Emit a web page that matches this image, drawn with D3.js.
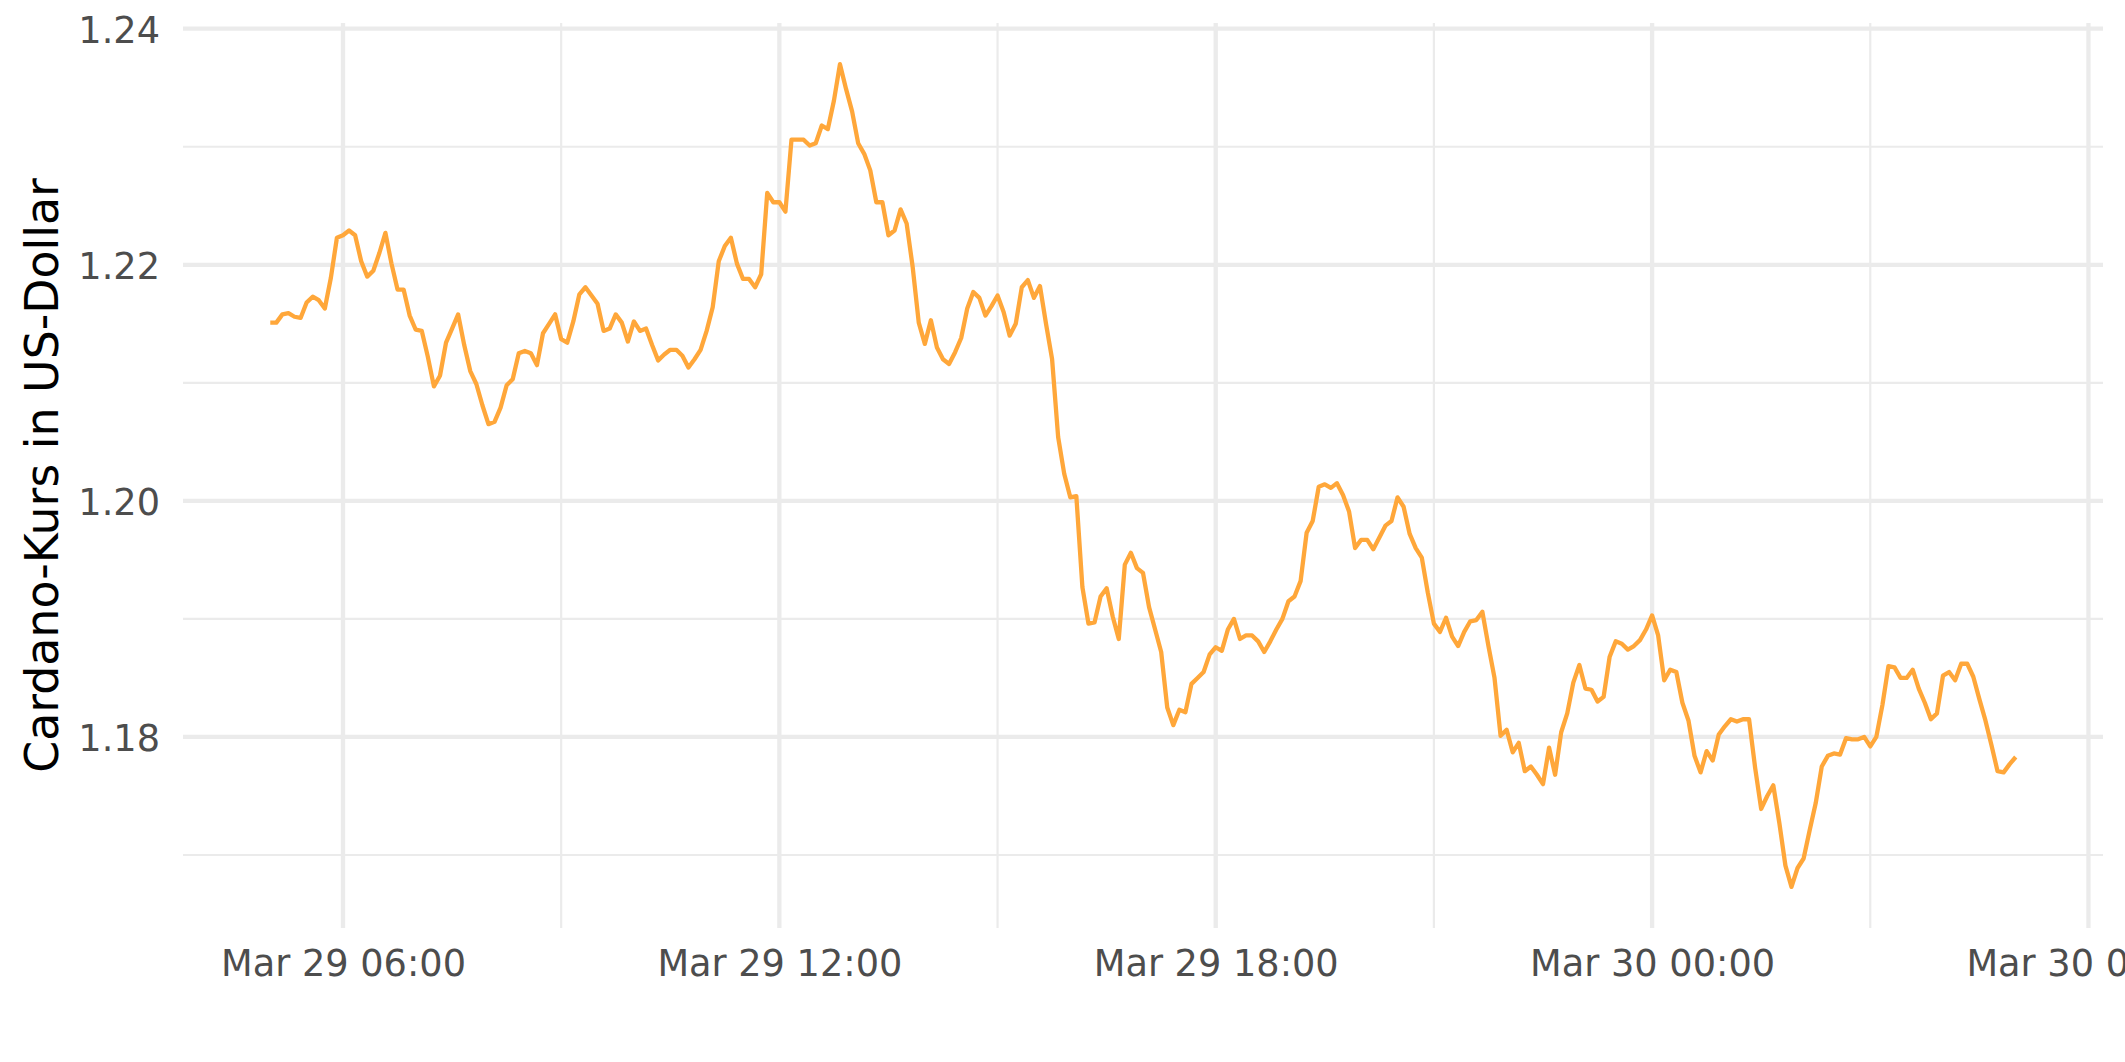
<!DOCTYPE html>
<html>
<head>
<meta charset="utf-8">
<script src="https://cdn.jsdelivr.net/npm/d3@7"></script>
<style>
  html, body { margin: 0; padding: 0; background: #ffffff; }
  svg { display: block; font-family: "DejaVu Sans", sans-serif; }
</style>
</head>
<body>
<svg id="chart" width="2125" height="1062"></svg>
<script>
// ---------------- data ----------------
const startTime = "2021-03-29T05:00:00Z";   // first observation
const stepMinutes = 5;                       // sampling interval
const prices = [
  1.2151, 1.2151, 1.2158, 1.2159, 1.2156, 1.2155, 1.2168, 1.2173, 1.2170, 1.2163,
  1.2189, 1.2223, 1.2225, 1.2229, 1.2225, 1.2203, 1.2190, 1.2195, 1.2210, 1.2227,
  1.2201, 1.2179, 1.2179, 1.2157, 1.2145, 1.2144, 1.2122, 1.2097, 1.2106, 1.2134,
  1.2146, 1.2158, 1.2132, 1.2110, 1.2099, 1.2081, 1.2065, 1.2067, 1.2079, 1.2098,
  1.2103, 1.2125, 1.2127, 1.2125, 1.2115, 1.2142, 1.2150, 1.2158, 1.2137, 1.2134,
  1.2152, 1.2175, 1.2181, 1.2174, 1.2167, 1.2144, 1.2146, 1.2158, 1.2151, 1.2135,
  1.2152, 1.2144, 1.2146, 1.2132, 1.2119, 1.2124, 1.2128, 1.2128, 1.2123, 1.2113,
  1.2120, 1.2128, 1.2144, 1.2164, 1.2203, 1.2216, 1.2223, 1.2201, 1.2188, 1.2188,
  1.2181, 1.2192, 1.2261, 1.2253, 1.2253, 1.2245, 1.2306, 1.2306, 1.2306, 1.2301,
  1.2303, 1.2318, 1.2315, 1.2339, 1.2370, 1.2349, 1.2330, 1.2303, 1.2294, 1.2280,
  1.2253, 1.2253, 1.2225, 1.2229, 1.2247, 1.2235, 1.2198, 1.2151, 1.2133, 1.2153,
  1.2130, 1.2120, 1.2116, 1.2126, 1.2138, 1.2163, 1.2177, 1.2172, 1.2157, 1.2165,
  1.2174, 1.2160, 1.2140, 1.2150, 1.2181, 1.2187, 1.2172, 1.2182, 1.2150, 1.2120,
  1.2054, 1.2023, 1.2003, 1.2004, 1.1927, 1.1896, 1.1897, 1.1919, 1.1926, 1.1902,
  1.1883, 1.1946, 1.1956, 1.1943, 1.1939, 1.1910, 1.1891, 1.1872, 1.1825, 1.1810,
  1.1823, 1.1821, 1.1845, 1.1850, 1.1855, 1.1870, 1.1876, 1.1873, 1.1891, 1.1900,
  1.1883, 1.1886, 1.1886, 1.1881, 1.1872, 1.1881, 1.1891, 1.1900, 1.1915, 1.1919,
  1.1932, 1.1973, 1.1983, 1.2012, 1.2014, 1.2011, 1.2015, 1.2005, 1.1991, 1.1960,
  1.1967, 1.1967, 1.1959, 1.1969, 1.1979, 1.1983, 1.2003, 1.1995, 1.1972, 1.1960,
  1.1952, 1.1922, 1.1896, 1.1889, 1.1901, 1.1885, 1.1877, 1.1889, 1.1898, 1.1899,
  1.1906, 1.1877, 1.1850, 1.1801, 1.1806, 1.1787, 1.1795, 1.1771, 1.1775, 1.1768,
  1.1760, 1.1791, 1.1768, 1.1804, 1.1820, 1.1846, 1.1861, 1.1841, 1.1840, 1.1830,
  1.1834, 1.1868, 1.1881, 1.1879, 1.1874, 1.1877, 1.1882, 1.1891, 1.1903, 1.1886,
  1.1848, 1.1857, 1.1855, 1.1829, 1.1814, 1.1784, 1.1770, 1.1788, 1.1780, 1.1802,
  1.1809, 1.1815, 1.1813, 1.1815, 1.1815, 1.1774, 1.1739, 1.1750, 1.1759, 1.1727,
  1.1691, 1.1673, 1.1689, 1.1697, 1.1721, 1.1744, 1.1775, 1.1784, 1.1786, 1.1785,
  1.1799, 1.1798, 1.1798, 1.1800, 1.1792, 1.1800, 1.1827, 1.1860, 1.1859, 1.1850,
  1.1850, 1.1857, 1.1841, 1.1829, 1.1815, 1.1820, 1.1852, 1.1855, 1.1848, 1.1862,
  1.1862, 1.1851, 1.1832, 1.1814, 1.1793, 1.1771, 1.1770, 1.1777, 1.1783
];
const yMajorTicks = [1.18, 1.20, 1.22, 1.24];
const yMinorTicks = [1.17, 1.19, 1.21, 1.23];
const xTickFormat = "%b %d %H:%M";
const yAxisTitle = "Cardano-Kurs in US-Dollar";

// ---------------- layout / style ----------------
const W = 2125, H = 1062;
const panel = { left: 183, right: 2103, top: 23, bottom: 928 };
const lineColor = "#FFA73A";
const gridColor = "#EBEBEB";
const tickTextColor = "#4D4D4D";

const t0 = new Date(startTime);
const data = prices.map((p, i) => ({ date: d3.utcMinute.offset(t0, i * stepMinutes), price: p }));

// ggplot-like 5% expansion
const xExt = d3.extent(data, d => d.date);
const xPad = (xExt[1] - xExt[0]) * 0.05;
const x = d3.scaleUtc()
  .domain([new Date(+xExt[0] - xPad), new Date(+xExt[1] + xPad)])
  .range([panel.left, panel.right]);

const yExt = d3.extent(data, d => d.price);
const yPad = (yExt[1] - yExt[0]) * 0.05;
const y = d3.scaleLinear()
  .domain([yExt[0] - yPad, yExt[1] + yPad])
  .range([panel.bottom, panel.top]);

const svg = d3.select("#chart");
svg.append("rect").attr("width", W).attr("height", H).attr("fill", "#ffffff");

// grid
const xMajor = x.ticks(d3.utcHour.every(6));
const xMinor = x.ticks(d3.utcHour.every(3)).filter(d => d.getUTCHours() % 6 !== 0);

const grid = svg.append("g");
grid.selectAll("line.ymin").data(yMinorTicks).join("line")
  .attr("x1", panel.left).attr("x2", panel.right)
  .attr("y1", d => y(d)).attr("y2", d => y(d))
  .attr("stroke", gridColor).attr("stroke-width", 2.2);
grid.selectAll("line.xmin").data(xMinor).join("line")
  .attr("y1", panel.top).attr("y2", panel.bottom)
  .attr("x1", d => x(d)).attr("x2", d => x(d))
  .attr("stroke", gridColor).attr("stroke-width", 2.2);
grid.selectAll("line.ymaj").data(yMajorTicks).join("line")
  .attr("x1", panel.left).attr("x2", panel.right)
  .attr("y1", d => y(d)).attr("y2", d => y(d))
  .attr("stroke", gridColor).attr("stroke-width", 4.3);
grid.selectAll("line.xmaj").data(xMajor).join("line")
  .attr("y1", panel.top).attr("y2", panel.bottom)
  .attr("x1", d => x(d)).attr("x2", d => x(d))
  .attr("stroke", gridColor).attr("stroke-width", 4.3);

// line
const line = d3.line().x(d => x(d.date)).y(d => y(d.price));
svg.append("path")
  .datum(data)
  .attr("d", line)
  .attr("fill", "none")
  .attr("stroke", lineColor)
  .attr("stroke-width", 4.3)
  .attr("stroke-linejoin", "round")
  .attr("stroke-linecap", "butt");

// axes
const yAxis = d3.axisLeft(y).tickValues(yMajorTicks).tickFormat(d3.format(".2f")).tickSize(0).tickPadding(23);
const gy = svg.append("g").attr("transform", `translate(${panel.left},0)`).call(yAxis);
gy.select(".domain").remove();
gy.selectAll("text")
  .attr("fill", tickTextColor)
  .attr("dy", "0.37em")
  .style("font-size", "36.7px")
  .style("font-family", "'DejaVu Sans', sans-serif");

const xAxis = d3.axisBottom(x).tickValues(xMajor).tickFormat(d3.utcFormat(xTickFormat)).tickSize(0).tickPadding(22);
const gx = svg.append("g").attr("transform", `translate(0,${panel.bottom})`).call(xAxis);
gx.select(".domain").remove();
gx.selectAll("text")
  .attr("fill", tickTextColor)
  .style("font-size", "36.7px")
  .style("font-family", "'DejaVu Sans', sans-serif");

// y title
svg.append("text")
  .attr("transform", `translate(58,${(panel.top + panel.bottom) / 2}) rotate(-90)`)
  .attr("text-anchor", "middle")
  .attr("fill", "#000000")
  .style("font-size", "45.8px")
  .style("font-family", "'DejaVu Sans', sans-serif")
  .text(yAxisTitle);
</script>
</body>
</html>
